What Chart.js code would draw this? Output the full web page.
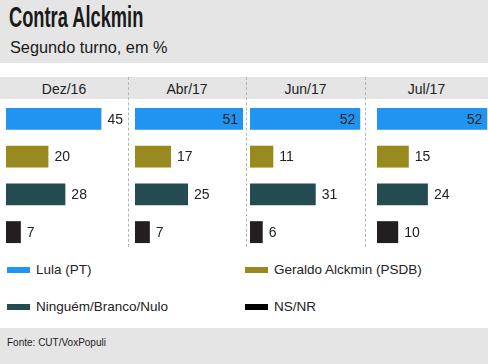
<!DOCTYPE html>
<html>
<head>
<meta charset="utf-8">
<script src="https://cdn.jsdelivr.net/npm/chart.js@4"></script>
<style>
  body { margin: 0; width: 488px; height: 364px; background: #fff; position: relative; overflow: hidden;
         font-family: "Liberation Sans", Arial, sans-serif; }
  #head { position: absolute; left: 0; top: 0; width: 488px; height: 63px; background: #e5e5e5; }
  #title { position: absolute; left: 9px; top: 1px; font-family: "Liberation Sans", Arial, sans-serif;
           font-weight: bold; font-size: 29px; color: #1a1a1a; transform: scaleX(0.63); transform-origin: left top; }
  #sub { position: absolute; left: 10px; top: 38px; font-size: 16.3px; color: #1a1a1a; }
  #band { position: absolute; left: 0; top: 77px; width: 488px; height: 22px; background: #e5e5e5; }
  .col { position: absolute; top: 77px; height: 22px; line-height: 24px; text-align: center; font-size: 14px; color: #222; }
  .sep { position: absolute; top: 77px; height: 170px; width: 0; border-left: 1px dashed #b5b5b5; }
  canvas { position: absolute; }
  .leg { position: absolute; font-size: 13.5px; color: #222; }
  .sw { position: absolute; width: 23px; height: 6px; }
  #foot { position: absolute; left: 0; top: 328px; width: 488px; height: 36px; background: #e5e5e5; }
  #src { position: absolute; left: 7px; top: 337px; font-size: 10px; color: #222; }
</style>
</head>
<body>
<div id="head"></div>
<div id="title">Contra Alckmin</div>
<div id="sub">Segundo turno, em %</div>
<div id="band"></div>
<div id="foot"></div>
<div id="src">Fonte: CUT/VoxPopuli</div>
<script>
// data
var periods = ["Dez/16", "Abr/17", "Jun/17", "Jul/17"];
var series = ["Lula (PT)", "Geraldo Alckmin (PSDB)", "Ninguém/Branco/Nulo", "NS/NR"];
var lula = [45, 51, 52, 52];
var alckmin = [20, 17, 11, 15];
var ninguem = [28, 25, 31, 24];
var nsnr = [7, 7, 6, 10];
var colors = ["#2193f0", "#988a1f", "#244b4f", "#231f20"];
var legendColors = ["#2193f0", "#988a1f", "#244b4f", "#000000"];

// layout of the four panels
var colLeft = [0, 128, 246, 365];
var colRight = [128, 246, 365, 488];
var barLeft = [6, 135, 250, 377];
var pxPerUnit = 2.12;
var insideFrom = 50; // values at or above this get the label inside the bar

for (var i = 0; i < periods.length; i++) {
  var c = document.createElement("div");
  c.className = "col";
  c.style.left = colLeft[i] + "px";
  c.style.width = (colRight[i] - colLeft[i]) + "px";
  c.textContent = periods[i];
  document.body.appendChild(c);
  if (i > 0) {
    var s = document.createElement("div");
    s.className = "sep";
    s.style.left = colLeft[i] + "px";
    document.body.appendChild(s);
  }
}

// value labels
var labelPlugin = {
  id: "valueLabels",
  afterDatasetsDraw: function (chart) {
    var ctx = chart.ctx;
    var meta = chart.getDatasetMeta(0);
    var data = chart.data.datasets[0].data;
    ctx.save();
    ctx.font = "14px 'Liberation Sans', Arial, sans-serif";
    ctx.fillStyle = "#222";
    ctx.textBaseline = "middle";
    meta.data.forEach(function (bar, k) {
      var v = data[k];
      if (v >= insideFrom) {
        ctx.textAlign = "right";
        ctx.fillText(v, bar.x - 5, bar.y + 1);
      } else {
        ctx.textAlign = "left";
        ctx.fillText(v, bar.x + 6, bar.y + 1);
      }
    });
    ctx.restore();
  }
};

for (var p = 0; p < periods.length; p++) {
  var w = colRight[p] - barLeft[p] - (p == 3 ? 0 : 3);
  var cv = document.createElement("canvas");
  cv.style.left = barLeft[p] + "px";
  cv.style.top = "100px";
  cv.style.width = w + "px";
  cv.style.height = "151px";
  cv.width = w;
  cv.height = 151;
  document.body.appendChild(cv);
  new Chart(cv, {
    type: "bar",
    data: {
      labels: series,
      datasets: [{
        data: [lula[p], alckmin[p], ninguem[p], nsnr[p]],
        backgroundColor: colors,
        borderWidth: 0,
        barPercentage: 0.58,
        categoryPercentage: 1
      }]
    },
    options: {
      indexAxis: "y",
      responsive: false,
      animation: false,
      layout: { padding: 0 },
      scales: {
        x: { display: false, min: 0, max: w / pxPerUnit },
        y: { display: false }
      },
      plugins: { legend: { display: false }, tooltip: { enabled: false } }
    },
    plugins: [labelPlugin]
  });
}

// legend
var legPos = [[7, 262], [245, 262], [7, 299], [245, 299]];
for (var j = 0; j < series.length; j++) {
  var sw = document.createElement("div");
  sw.className = "sw";
  sw.style.left = legPos[j][0] + "px";
  sw.style.top = (legPos[j][1] + 5) + "px";
  sw.style.background = legendColors[j];
  document.body.appendChild(sw);
  var t = document.createElement("div");
  t.className = "leg";
  t.style.left = (legPos[j][0] + 29) + "px";
  t.style.top = legPos[j][1] + "px";
  t.textContent = series[j];
  document.body.appendChild(t);
}
</script>
</body>
</html>
